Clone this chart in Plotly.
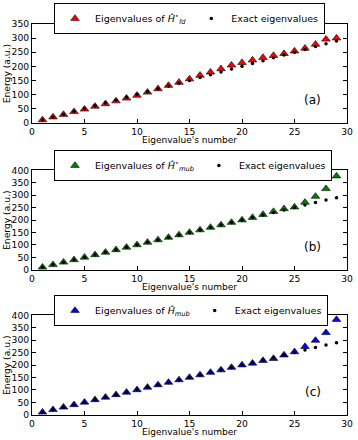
import plotly.graph_objects as go

# eigenvalue index
n = list(range(1, 30))

# exact eigenvalues (same in all three panels)
exact = [10, 20, 30, 40, 50, 60, 70, 80, 90, 100, 110, 120, 130, 140, 150,
         160, 170, 180, 190, 200, 210, 220, 230, 240, 250, 260, 270, 280, 290]

# (a) eigenvalues of H*_fd
h_fd = [10, 20, 29, 39, 48, 58, 67, 77, 87, 97, 108, 120, 132, 143, 155,
        168, 179, 191, 204, 213, 222, 231, 238, 245, 254, 264, 278, 296, 300]

# (b) eigenvalues of H*_mub
h_mub_star = [10, 20, 30, 40, 50, 60, 70, 80, 90, 100, 110, 120, 130, 140, 150,
              160, 170, 180, 190, 200, 210, 222, 234, 245, 252, 271, 295, 326, 377]

# (c) eigenvalues of H_mub
h_mub = [10, 20, 30, 40, 50, 60, 70, 80, 90, 100, 110, 120, 130, 140, 150,
         160, 170, 180, 190, 200, 207, 218, 226, 240, 253, 274, 299, 330, 383]

panels = [
    ("Eigenvalues of <i>Ĥ</i><sup>⋆</sup><sub><i>fd</i></sub>", h_fd, "#ff0000", 350, "(a)"),
    ("Eigenvalues of <i>Ĥ</i><sup>⋆</sup><sub><i>mub</i></sub>", h_mub_star, "#008000", 400, "(b)"),
    ("Eigenvalues of <i>Ĥ</i><sub><i>mub</i></sub>", h_mub, "#0000ff", 400, "(c)"),
]

W, H = 358, 440
# pixel boxes of the three axes (top, bottom) and legend tops
boxes = [(24, 122.7), (170.3, 269.7), (315.3, 414.7)]
legend_tops = [3, 150, 295]
x0, x1 = 32, 347

FONT = "DejaVu Sans"

fig = go.Figure()
layout = dict(
    width=W, height=H,
    margin=dict(l=0, r=0, t=0, b=0, autoexpand=False),
    paper_bgcolor="white", plot_bgcolor="white",
    font=dict(family=FONT, size=9, color="black"),
    showlegend=True,
)
annotations = []

for i, (label, vals, color, ymax, tag) in enumerate(panels):
    k = "" if i == 0 else str(i + 1)
    lg = "legend" + k
    fig.add_trace(go.Scatter(
        x=n, y=vals, mode="markers", name=label,
        marker=dict(symbol="triangle-up", size=7.5, color=color,
                    line=dict(color="black", width=0.6)),
        xaxis="x" + k, yaxis="y" + k, legend=lg, cliponaxis=False,
    ))
    fig.add_trace(go.Scatter(
        x=n, y=exact, mode="markers", name="Exact eigenvalues",
        marker=dict(symbol="circle", size=3.5, color="black"),
        xaxis="x" + k, yaxis="y" + k, legend=lg, cliponaxis=False,
    ))

    top, bot = boxes[i]
    axis_common = dict(
        showline=True, linecolor="black", linewidth=1, mirror="allticks",
        ticks="inside", ticklen=4, tickcolor="black", showgrid=False,
        zeroline=False, tickfont=dict(size=9.2, family=FONT), automargin=False,
    )
    layout["xaxis" + k] = dict(
        axis_common, domain=[x0 / W, x1 / W], range=[0, 30], dtick=5,
        anchor="y" + k,
    )
    layout["yaxis" + k] = dict(
        axis_common, domain=[1 - bot / H, 1 - top / H], range=[0, ymax],
        dtick=50, anchor="x" + k,
    )
    layout[lg] = dict(
        orientation="h", x=54 / W, xanchor="left",
        y=1 - legend_tops[i] / H, yanchor="top",
        bgcolor="white", bordercolor="black", borderwidth=1,
        font=dict(size=9.5, family=FONT), itemwidth=30,
        tracegroupgap=0,
    )
    annotations.append(dict(
        text=tag, xref="x" + k + " domain", yref="y" + k + " domain",
        x=0.925, y=0.14, showarrow=False, font=dict(size=12, family=FONT),
    ))
    # axis titles
    annotations.append(dict(
        text="Eigenvalue's number", xref="x" + k + " domain", yref="paper",
        x=0.5, y=1 - (bot + 17) / H, yanchor="middle", showarrow=False,
        font=dict(size=9, family=FONT), borderpad=0,
    ))
    annotations.append(dict(
        text="Energy (a.u.)", xref="paper", yref="y" + k + " domain",
        x=6 / W, y=0.5, xanchor="center", textangle=-90, showarrow=False,
        font=dict(size=9.2, family=FONT), borderpad=0,
    ))

layout["annotations"] = annotations
fig.update_layout(**layout)
# drop the browser's default 8px body margin so the figure sits at the corner
fig.write_html("out.html", config={"displayModeBar": False},
               post_script="document.body.style.margin='0';")
